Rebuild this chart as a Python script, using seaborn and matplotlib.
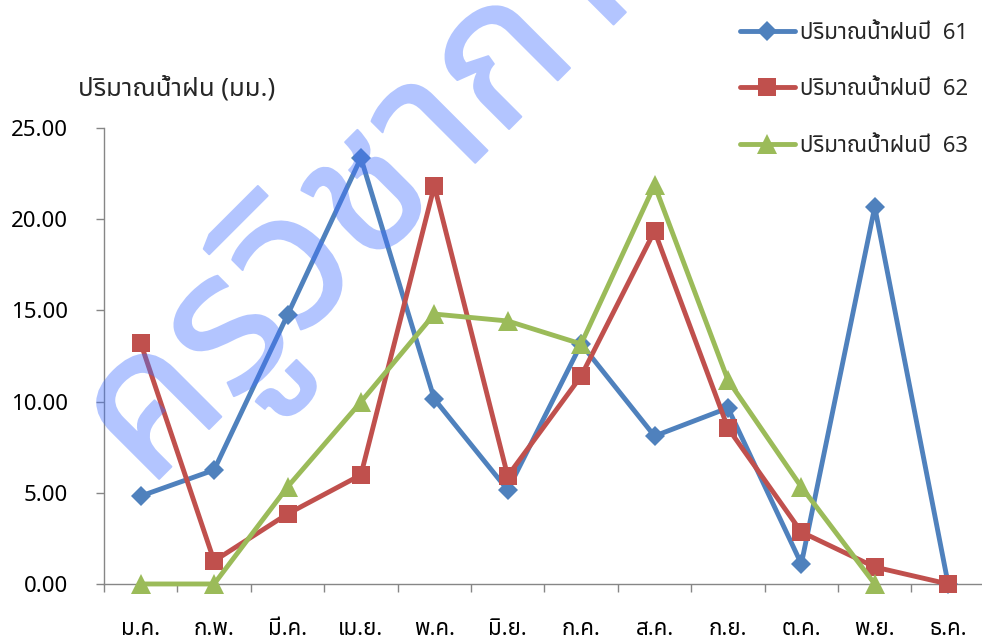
import numpy as np
import pandas as pd
import seaborn as sns
import matplotlib
matplotlib.use('Agg')
import matplotlib.pyplot as plt
import matplotlib.patheffects as pe
from matplotlib import font_manager
from matplotlib.ft2font import FT2Font

# data
months = ['ม.ค.', 'ก.พ.', 'มี.ค.', 'เม.ย.', 'พ.ค.', 'มิ.ย.', 'ก.ค.', 'ส.ค.', 'ก.ย.', 'ต.ค.', 'พ.ย.', 'ธ.ค.']
rain_61 = [4.82, 6.25, 14.75, 23.36, 10.14, 5.15, 13.16, 8.11, 9.65, 1.10, 20.67, 0.00]
rain_62 = [13.21, 1.26, 3.84, 5.98, 21.82, 5.92, 11.40, 19.35, 8.55, 2.85, 0.93, 0.00]
rain_63 = [0.00, 0.00, 5.32, 9.98, 14.80, 14.42, 13.16, 21.87, 11.18, 5.32, 0.00, np.nan]
series_names = ['ปริมาณน้ำฝนปี  61', 'ปริมาณน้ำฝนปี  62', 'ปริมาณน้ำฝนปี  63']
y_ticks = [0, 5, 10, 15, 20, 25]
y_label = 'ปริมาณน้ำฝน (มม.)'
watermark = 'ครูวิชาการ'

colors = ['#4F81BD', '#C0504D', '#9BBB59']
markers = ['D', 's', '^']
msizes = [10.5, 13.5, 15]
wm_color = (65 / 255, 112 / 255, 1.0)


def find_thai_family():
    # pick an installed family that has Thai glyphs
    found = []
    for f in font_manager.fontManager.ttflist:
        try:
            if 0x0E1B in FT2Font(f.fname).get_charmap():
                found.append(f.name)
        except Exception:
            pass
    for pref in ['Noto Sans Thai', 'Noto Sans Thai UI', 'Loma', 'Garuda', 'Waree', 'Umpush', 'Sarabun']:
        if pref in found:
            return pref
    return found[0] if found else 'DejaVu Sans'


def fade(im, dpi):
    # make the whole watermark see-through in one go (no double alpha on the stroke)
    im = im.copy()
    im[..., 3] *= 0.40
    return im, 0, 0


sns.set_style('white')
thai = find_thai_family()
plt.rcParams['font.family'] = [thai, 'DejaVu Sans']

df = pd.DataFrame({
    'pos': list(range(12)) * 3,
    'rain': rain_61 + rain_62 + rain_63,
    'series': [series_names[0]] * 12 + [series_names[1]] * 12 + [series_names[2]] * 12,
})

fig = plt.figure(figsize=(9.82, 6.44), dpi=100)
ax = fig.add_axes([0.1059, 0.0932, 0.897, 0.708])

for i, name in enumerate(series_names):
    sub = df[df['series'] == name].dropna()
    sns.lineplot(data=sub, x='pos', y='rain', ax=ax, color=colors[i], lw=3.5,
                 marker=markers[i], markersize=msizes[i], markeredgewidth=0,
                 label=name, clip_on=False, zorder=3 + i)

ax.set_xlim(-0.5, 11.5)
ax.set_ylim(0, 25)
ax.set_yticks(y_ticks)
ax.set_yticklabels(['%.2f' % v for v in y_ticks])
ax.set_xticks(range(12))
ax.set_xticklabels(months)
ax.set_xticks(np.arange(-0.5, 12, 1), minor=True)
ax.set_xlabel('')
ax.set_ylabel('')

for s in ['top', 'right']:
    ax.spines[s].set_visible(False)
for s in ['left', 'bottom']:
    ax.spines[s].set_color('#868686')
    ax.spines[s].set_linewidth(1)

ax.tick_params(axis='y', which='major', length=6, width=1, color='#868686',
               direction='out', left=True, pad=20, labelsize=16, labelcolor='black')
ax.tick_params(axis='x', which='major', length=0, pad=25, labelsize=16, labelcolor='black')
ax.tick_params(axis='x', which='minor', length=6, width=1, color='#868686',
               direction='out', bottom=True)

fig.text(78 / 982, 1 - 96 / 644, y_label, fontsize=18.5, ha='left', va='baseline')

ax.legend(loc='upper left', bbox_to_anchor=(733 / 982, 1 - 16 / 644), bbox_transform=fig.transFigure,
          frameon=False, fontsize=16, handlelength=2.5, handletextpad=0.2,
          labelspacing=1.6, borderaxespad=0, borderpad=0.3, numpoints=1)

# watermark drawn over the plot
wm = fig.text(148 / 982, 1 - 490 / 644, watermark, fontsize=140,
              rotation=45, rotation_mode='anchor', ha='left', va='baseline',
              color=wm_color, zorder=10)
wm.set_path_effects([pe.Stroke(linewidth=1.5, foreground=wm_color), pe.Normal()])
wm.set_agg_filter(fade)

plt.savefig('out.png', dpi=100)
